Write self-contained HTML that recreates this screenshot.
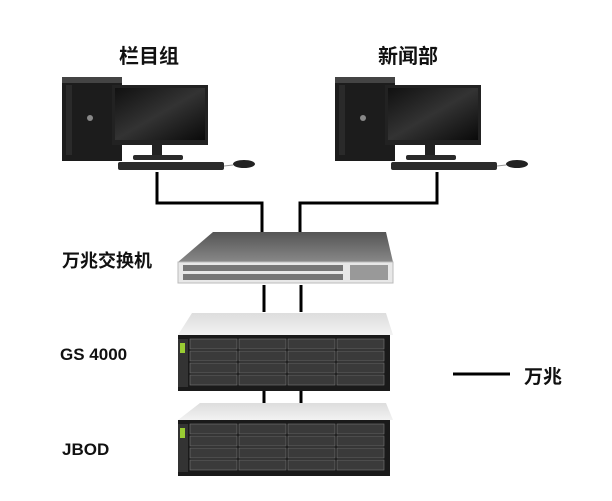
<!DOCTYPE html>
<html><head><meta charset="utf-8"><style>
body{margin:0;background:#fff;width:612px;height:501px;overflow:hidden;position:relative;font-family:"Liberation Sans","Noto Sans CJK SC",sans-serif}
.t{position:absolute;font-weight:bold;color:#111;white-space:nowrap}
</style></head><body>
<svg width="612" height="501" style="position:absolute;left:0;top:0">
<defs>
<linearGradient id="scr" x1="0" y1="0" x2="1" y2="1"><stop offset="0" stop-color="#111"/><stop offset=".5" stop-color="#333"/><stop offset="1" stop-color="#0a0a0a"/></linearGradient>
<linearGradient id="sw" x1="0" y1="0" x2="0" y2="1"><stop offset="0" stop-color="#555"/><stop offset="1" stop-color="#888"/></linearGradient>
<linearGradient id="top" x1="0" y1="0" x2="0" y2="1"><stop offset="0" stop-color="#ddd"/><stop offset="1" stop-color="#f2f2f2"/></linearGradient>
<g id="pc">
<rect x="62" y="77" width="60" height="84" fill="#1c1c1c"/>
<rect x="62" y="77" width="60" height="6" fill="#444"/>
<rect x="66" y="85" width="6" height="70" fill="#2a2a2a"/>
<circle cx="90" cy="118" r="3" fill="#888"/>
<rect x="112" y="85" width="96" height="60" fill="#222"/>
<rect x="115" y="88" width="90" height="52" fill="url(#scr)"/>
<rect x="152" y="145" width="10" height="12" fill="#222"/>
<rect x="133" y="155" width="50" height="5" rx="2" fill="#2a2a2a"/>
<rect x="118" y="162" width="106" height="8" rx="2" fill="#2b2b2b"/>
<ellipse cx="244" cy="164" rx="11" ry="4" fill="#222"/>
<path d="M224 166 L233 165" stroke="#999"/>
</g>
<g id="disk">
<rect x="180" y="0" width="212" height="56" fill="#1a1a1a"/>
<rect x="180" y="4" width="10" height="48" fill="#333"/>
<rect x="182" y="8" width="5" height="10" fill="#9c3"/>
<g fill="#3a3a3a" stroke="#777" stroke-width=".6">
<rect x="192" y="4" width="47" height="10"/><rect x="241" y="4" width="47" height="10"/><rect x="290" y="4" width="47" height="10"/><rect x="339" y="4" width="47" height="10"/>
<rect x="192" y="16" width="47" height="10"/><rect x="241" y="16" width="47" height="10"/><rect x="290" y="16" width="47" height="10"/><rect x="339" y="16" width="47" height="10"/>
<rect x="192" y="28" width="47" height="10"/><rect x="241" y="28" width="47" height="10"/><rect x="290" y="28" width="47" height="10"/><rect x="339" y="28" width="47" height="10"/>
<rect x="192" y="40" width="47" height="10"/><rect x="241" y="40" width="47" height="10"/><rect x="290" y="40" width="47" height="10"/><rect x="339" y="40" width="47" height="10"/>
</g>
</g>
</defs>
<g fill="none" stroke="#000" stroke-width="3">
<path d="M157 172 V203 H262 V232"/>
<path d="M437 172 V203 H300 V232"/>
<path d="M264 285 V312 M301 285 V312 M264 390 V403 M301 390 V403"/>
<path d="M453 374 H510"/>
</g>
<use href="#pc"/>
<use href="#pc" x="273"/>
<!-- switch -->
<path d="M213 232 H386 L393 262 H178 Z" fill="url(#sw)"/>
<rect x="178" y="262" width="215" height="21" fill="#e8e8e8" stroke="#bbb"/>
<rect x="183" y="265" width="160" height="6" fill="#777"/>
<rect x="183" y="274" width="160" height="6" fill="#777"/>
<rect x="350" y="265" width="38" height="15" fill="#999"/>
<!-- storage 1 -->
<path d="M192 313 H386 L393 335 H178 Z" fill="url(#top)"/>
<g transform="translate(-2,335)"><use href="#disk"/></g>
<path d="M200 403 H386 L393 420 H178 Z" fill="url(#top)"/>
<g transform="translate(-2,420)"><use href="#disk"/></g>
</svg>
<div class="t" style="left:119px;top:40px;font-size:20px">栏目组</div>
<div class="t" style="left:378px;top:40px;font-size:20px">新闻部</div>
<div class="t" style="left:62px;top:247px;font-size:18px">万兆交换机</div>
<div class="t" style="left:60px;top:345px;font-size:17px">GS 4000</div>
<div class="t" style="left:62px;top:440px;font-size:17px">JBOD</div>
<div class="t" style="left:524px;top:362px;font-size:19px">万兆</div>
</body></html>
